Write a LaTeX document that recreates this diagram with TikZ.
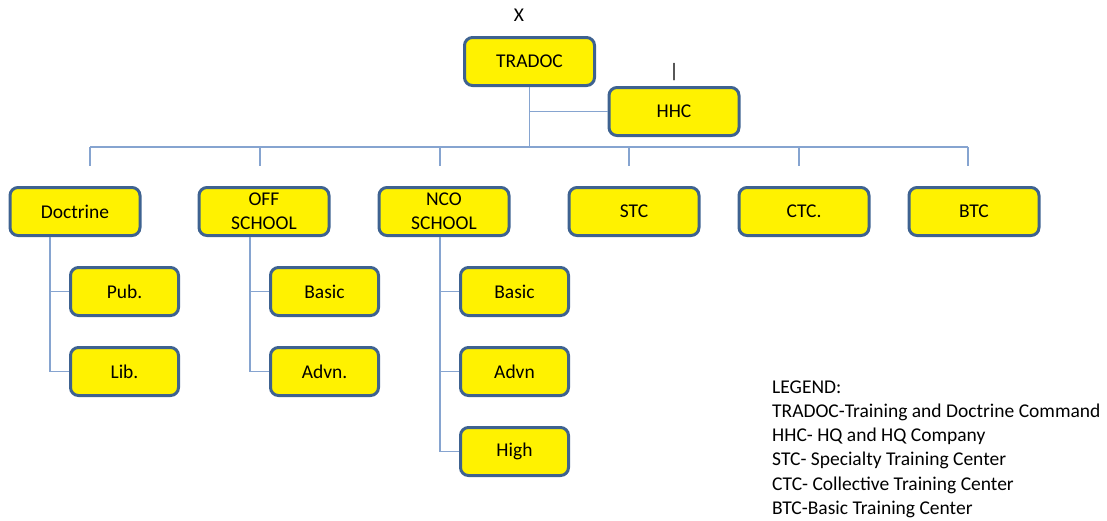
\documentclass[tikz,border=0pt]{standalone}
\usepackage{fontspec}
\setmainfont{Carlito}
\definecolor{unitborder}{HTML}{3E6290}
\definecolor{linkblue}{HTML}{86A4D0}
\begin{document}
\begin{tikzpicture}[x=1pt, y=-1pt,
	unit/.style={draw=unitborder, line width=3pt, fill=yellow, rounded corners=8pt,
		minimum width=130pt, minimum height=48pt, inner sep=0pt, align=center,
		font=\fontsize{19.5}{24}\selectfont},
	subunit/.style={unit, minimum width=108pt},
	link/.style={draw=linkblue, line width=1.5pt}]
	\useasboundingbox (0,0) rectangle (1107,520);
	% command and company
	\node[unit] (tradoc) at (529.5,61.5) {TRADOC};
	\node[unit] (hhc) at (674,111.5) {HHC};
	\node[font=\fontsize{19.5}{22}\selectfont] (xmark) at (519,15) {X};
	\node[font=\fontsize{19.5}{22}\selectfont] (imark) at (674,72) {|};
	% schools and centers
	\node[unit] (doctrine) at (75,211.5) {Doctrine};
	\node[unit] (offsch) at (264,211.5) {OFF\\SCHOOL};
	\node[unit] (ncosch) at (444,211.5) {NCO\\SCHOOL};
	\node[unit] (stc) at (634,211.5) {STC};
	\node[unit] (ctc) at (804,211.5) {CTC.};
	\node[unit] (btc) at (974,211.5) {BTC};
	% sub units
	\node[subunit] (pub) at (124.5,291.5) {Pub.};
	\node[subunit] (lib) at (124.5,371.5) {Lib.};
	\node[subunit] (offbasic) at (324.5,291.5) {Basic};
	\node[subunit] (offadvn) at (324.5,371.5) {Advn.};
	\node[subunit] (ncobasic) at (514.5,291.5) {Basic};
	\node[subunit] (ncoadvn) at (514.5,371.5) {Advn};
	\node[subunit] (ncohigh) at (514.5,451.5) {High};
	% bus line
	\coordinate (busl) at (90,147);
	\coordinate (busr) at (968,147);
	\draw[link] (tradoc.south) -- (tradoc.south |- busl);
	\draw[link] (tradoc.south |- hhc.west) -- (hhc.west);
	\draw[link] (busl) -- (busr);
	\foreach \x in {90,260,440,629,799,968}
		\draw[link] (\x,147) -- (\x,166);
	% branches
	\draw[link] (doctrine.south -| 50,0) -- (50,371.5);
	\draw[link] (50,291.5) -- (pub.west);
	\draw[link] (50,371.5) -- (lib.west);
	\draw[link] (offsch.south -| 250,0) -- (250,371.5);
	\draw[link] (250,291.5) -- (offbasic.west);
	\draw[link] (250,371.5) -- (offadvn.west);
	\draw[link] (ncosch.south -| 440,0) -- (440,451.5);
	\draw[link] (440,291.5) -- (ncobasic.west);
	\draw[link] (440,371.5) -- (ncoadvn.west);
	\draw[link] (440,451.5) -- (ncohigh.west);
	% legend
	\node[anchor=north west, align=left, inner sep=0pt,
		font=\fontsize{19.5}{24.2}\selectfont] (legend) at (772,380.5) {LEGEND:\\
		TRADOC-Training and Doctrine Command\\
		HHC- HQ and HQ Company\\
		STC- Specialty Training Center\\
		CTC- Collective Training Center\\
		BTC-Basic Training Center};
\end{tikzpicture}
\end{document}
